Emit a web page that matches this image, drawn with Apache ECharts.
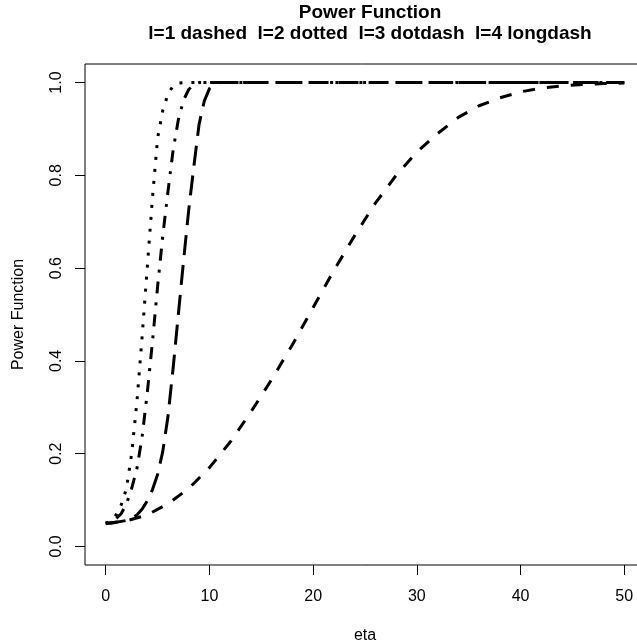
<!DOCTYPE html>
<html>
<head>
<meta charset="utf-8">
<title>Power Function</title>
<script src="https://cdn.jsdelivr.net/npm/echarts@6.0.0/dist/echarts.min.js"></script>
<style>
  html, body { margin: 0; padding: 0; background: #fff; }
  #chart { width: 637px; height: 643px; }
</style>
</head>
<body>
<div id="chart"></div>
<script>
// eta grids (fine one for the steep curves, coarse one for l=1)
const etaFine = [0, 0.5, 1, 1.5, 2, 2.5, 3, 3.5, 4, 4.5, 5, 5.5, 6, 6.5, 7, 7.5, 8, 8.5, 9, 9.5, 10, 10.5, 11, 50];
const etaCoarse = [0, 2, 4, 6, 8, 10, 12, 14, 16, 18, 20, 22, 24, 26, 28, 30, 32, 34, 36, 38, 40, 42, 44, 46, 48, 50];

// power values
const powL1 = [0.05, 0.055, 0.068, 0.092, 0.125, 0.17, 0.225, 0.29, 0.36, 0.435, 0.515, 0.595, 0.67,
  0.74, 0.80, 0.85, 0.89, 0.925, 0.95, 0.967, 0.98, 0.988, 0.993, 0.996, 0.998, 0.999];
const powL2 = [0.05, 0.055, 0.068, 0.09, 0.125, 0.2, 0.31, 0.45, 0.6, 0.75, 0.88, 0.94, 0.975, 0.993,
  0.999, 1, 1, 1, 1, 1, 1, 1, 1, 1];
const powL3 = [0.05, 0.052, 0.06, 0.071, 0.092, 0.125, 0.167, 0.235, 0.33, 0.44, 0.56, 0.67, 0.765,
  0.855, 0.92, 0.962, 0.985, 0.996, 1, 1, 1, 1, 1, 1];
const powL4 = [0.05, 0.05, 0.052, 0.054, 0.056, 0.06, 0.068, 0.08, 0.098, 0.122, 0.155, 0.205, 0.28,
  0.385, 0.5, 0.615, 0.725, 0.82, 0.91, 0.96, 0.987, 0.997, 1, 1];

const xTicks = [0, 10, 20, 30, 40, 50];
const yTicks = [0, 0.2, 0.4, 0.6, 0.8, 1.0];

const FONT = '"Liberation Sans", Arial, Helvetica, sans-serif';

function pairs(xs, ys) {
  return xs.map((x, i) => [x, ys[i]]);
}

function curve(name, xs, ys, dash) {
  return {
    name: name,
    type: 'line',
    data: pairs(xs, ys),
    showSymbol: false,
    lineStyle: { color: '#000', width: 3, type: dash, cap: 'butt' },
    emphasis: { disabled: true }
  };
}

const chart = echarts.init(document.getElementById('chart'));

chart.setOption({
  animation: false,
  backgroundColor: '#fff',
  title: {
    text: 'Power Function\nl=1 dashed  l=2 dotted  l=3 dotdash  l=4 longdash',
    left: 365,
    top: -3,
    textAlign: 'center',
    textStyle: { fontFamily: FONT, fontSize: 19, fontWeight: 'bold', color: '#000', lineHeight: 21 }
  },
  grid: {
    left: 85, top: 64, width: 560, height: 501,
    show: true, borderColor: '#000', borderWidth: 1,
    outerBoundsMode: 'none'
  },
  xAxis: {
    type: 'value',
    min: -2, max: 52,
    name: 'eta',
    nameLocation: 'middle',
    nameGap: 63,
    nameTextStyle: { fontFamily: FONT, fontSize: 16, color: '#000' },
    axisLine: { show: false, onZero: false },
    axisTick: { show: true, length: 10, customValues: xTicks, lineStyle: { color: '#000' } },
    axisLabel: { customValues: xTicks, margin: 24, fontFamily: FONT, fontSize: 16, color: '#000' },
    splitLine: { show: false }
  },
  yAxis: {
    type: 'value',
    min: -0.04, max: 1.04,
    name: 'Power Function',
    nameLocation: 'middle',
    nameGap: 58,
    nameRotate: 90,
    nameTextStyle: { fontFamily: FONT, fontSize: 16, color: '#000' },
    axisLine: { show: false, onZero: false },
    axisTick: { show: true, length: 10, customValues: yTicks, lineStyle: { color: '#000' } },
    axisLabel: {
      customValues: yTicks, rotate: 90, margin: 20,
      fontFamily: FONT, fontSize: 16, color: '#000',
      formatter: v => v.toFixed(1)
    },
    splitLine: { show: false }
  },
  series: [
    curve('l=1 dashed', etaCoarse, powL1, [12, 12]),
    curve('l=2 dotted', etaFine, powL2, [3, 9]),
    curve('l=3 dotdash', etaFine, powL3, [3, 9, 12, 9]),
    curve('l=4 longdash', etaFine, powL4, [20, 10])
  ]
});
</script>
</body>
</html>
